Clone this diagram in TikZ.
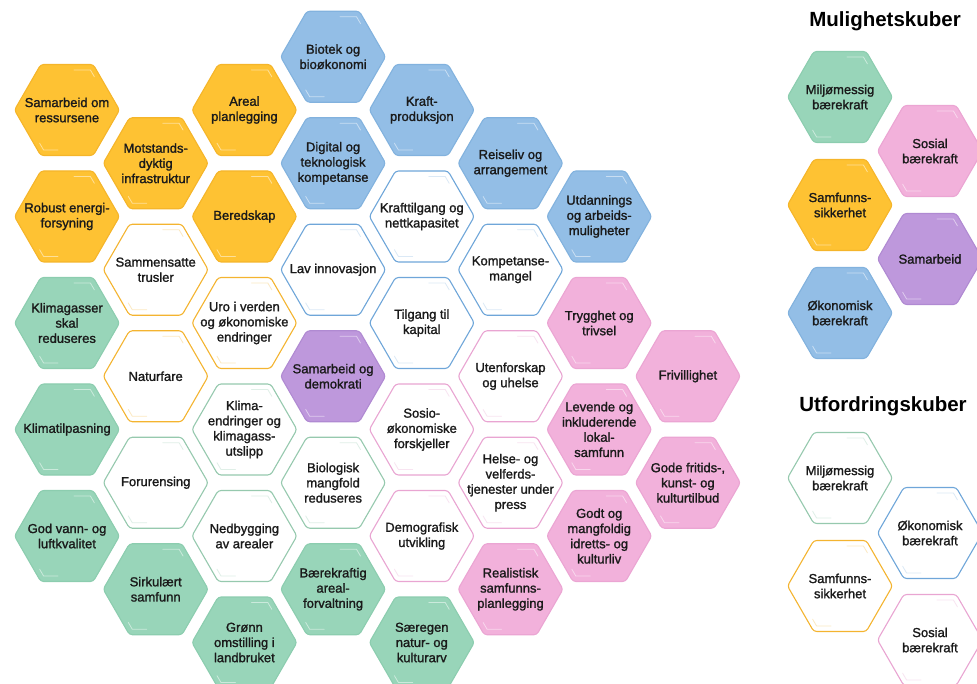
\documentclass[tikz,border=0pt]{standalone}
\usepackage{fontspec}
\setmainfont{Liberation Sans}
\newfontfamily\hexfont[FakeBold=1.4]{Liberation Sans}
\definecolor{ylw}{HTML}{FEC233}
\definecolor{ylwB}{HTML}{F5B52A}
\definecolor{org}{HTML}{F4B430}
\definecolor{blu}{HTML}{93BEE6}
\definecolor{bluB}{HTML}{82B2DE}
\definecolor{bluO}{HTML}{6FA6D9}
\definecolor{grn}{HTML}{98D5B9}
\definecolor{grnB}{HTML}{8CCDAF}
\definecolor{grnO}{HTML}{96C9AE}
\definecolor{pnk}{HTML}{F2B1DB}
\definecolor{pnkB}{HTML}{EBA5D3}
\definecolor{pnkO}{HTML}{E9A5D2}
\definecolor{prp}{HTML}{BE98DC}
\definecolor{prpB}{HTML}{B08AD2}
\definecolor{txt}{HTML}{1A1A1A}
\newcommand\hexcell[5]{%
  \begin{scope}[shift={(#2,#3)}]
    \draw[hexbase,#4] (-52.5,0) -- (-26.25,-45.5) -- (26.25,-45.5) -- (52.5,0) -- (26.25,45.5) -- (-26.25,45.5) -- cycle;
    \draw[glint,#4g] (7,-40) -- (23.4,-40) -- (27.4,-33.2);
    \draw[glint,#4g] (-27.4,33.2) -- (-23.4,40) -- (-9,40);
    \node[hextext] (#1) at (0,0) {#5};
  \end{scope}}
\begin{document}
\begin{tikzpicture}[x=1pt,y=-1pt,
  hexbase/.style={line width=1.1pt, rounded corners=3pt, line join=round},
  glint/.style={line width=0.8pt, line cap=round},
  hextext/.style={inner sep=0pt, align=center, text=txt, font=\hexfont\fontsize{13}{15.2}\selectfont},
  title/.style={anchor=base, text=black, font=\bfseries\fontsize{20.5}{24}\selectfont},
  fy/.style={fill=ylw,draw=ylwB}, fyg/.style={white,opacity=0.5},
  oy/.style={fill=white,draw=org}, oyg/.style={org!30},
  fb/.style={fill=blu,draw=bluB}, fbg/.style={white,opacity=0.5},
  ob/.style={fill=white,draw=bluO}, obg/.style={bluO!25},
  fg/.style={fill=grn,draw=grnB}, fgg/.style={white,opacity=0.5},
  og/.style={fill=white,draw=grnO}, ogg/.style={grnO!30},
  fp/.style={fill=pnk,draw=pnkB}, fpg/.style={white,opacity=0.5},
  op/.style={fill=white,draw=pnkO}, opg/.style={pnkO!30},
  fv/.style={fill=prp,draw=prpB}, fvg/.style={white,opacity=0.5}]
\useasboundingbox (0,0) rectangle (977,684);
\clip (0,0) rectangle (977,684);
% column 1
\hexcell{a1}{67}{110}{fy}{Samarbeid om\\ressursene}
\hexcell{a2}{67}{216.5}{fy}{Robust energi-\\forsyning}
\hexcell{a3}{67}{323}{fg}{Klimagasser\\skal\\reduseres}
\hexcell{a4}{67}{429.5}{fg}{Klimatilpasning}
\hexcell{a5}{67}{536}{fg}{God vann- og\\luftkvalitet}
% column 2
\hexcell{b1}{155.7}{163.25}{fy}{Motstands-\\dyktig\\infrastruktur}
\hexcell{b2}{155.7}{269.75}{oy}{Sammensatte\\trusler}
\hexcell{b3}{155.7}{376.25}{oy}{Naturfare}
\hexcell{b4}{155.7}{482.75}{og}{Forurensing}
\hexcell{b5}{155.7}{589.25}{fg}{Sirkulært\\samfunn}
% column 3
\hexcell{c1}{244.4}{110}{fy}{Areal\\planlegging}
\hexcell{c2}{244.4}{216.5}{fy}{Beredskap}
\hexcell{c3}{244.4}{323}{oy}{Uro i verden\\og økonomiske\\endringer}
\hexcell{c4}{244.4}{429.5}{og}{Klima-\\endringer og\\klimagass-\\utslipp}
\hexcell{c5}{244.4}{536}{og}{Nedbygging\\av arealer}
\hexcell{c6}{244.4}{642.5}{fg}{Grønn\\omstilling i\\landbruket}
% column 4
\hexcell{d1}{333.1}{56.75}{fb}{Biotek og\\bioøkonomi}
\hexcell{d2}{333.1}{163.25}{fb}{Digital og\\teknologisk\\kompetanse}
\hexcell{d3}{333.1}{269.75}{ob}{Lav innovasjon}
\hexcell{d4}{333.1}{376.25}{fv}{Samarbeid og\\demokrati}
\hexcell{d5}{333.1}{482.75}{og}{Biologisk\\mangfold\\reduseres}
\hexcell{d6}{333.1}{589.25}{fg}{Bærekraftig\\areal-\\forvaltning}
% column 5
\hexcell{e1}{421.8}{110}{fb}{Kraft-\\produksjon}
\hexcell{e2}{421.8}{216.5}{ob}{Krafttilgang og\\nettkapasitet}
\hexcell{e3}{421.8}{323}{ob}{Tilgang til\\kapital}
\hexcell{e4}{421.8}{429.5}{op}{Sosio-\\økonomiske\\forskjeller}
\hexcell{e5}{421.8}{536}{op}{Demografisk\\utvikling}
\hexcell{e6}{421.8}{642.5}{fg}{Særegen\\natur- og\\kulturarv}
% column 6
\hexcell{f1}{510.5}{163.25}{fb}{Reiseliv og\\arrangement}
\hexcell{f2}{510.5}{269.75}{ob}{Kompetanse-\\mangel}
\hexcell{f3}{510.5}{376.25}{op}{Utenforskap\\og uhelse}
\hexcell{f4}{510.5}{482.75}{op}{Helse- og\\velferds-\\tjenester under\\press}
\hexcell{f5}{510.5}{589.25}{fp}{Realistisk\\samfunns-\\planlegging}
% column 7
\hexcell{g1}{599.2}{216.5}{fb}{Utdannings\\og arbeids-\\muligheter}
\hexcell{g2}{599.2}{323}{fp}{Trygghet og\\trivsel}
\hexcell{g3}{599.2}{429.5}{fp}{Levende og\\inkluderende\\lokal-\\samfunn}
\hexcell{g4}{599.2}{536}{fp}{Godt og\\mangfoldig\\idretts- og\\kulturliv}
% column 8
\hexcell{h1}{687.9}{376.25}{fp}{Frivillighet}
\hexcell{h2}{687.9}{482.75}{fp}{Gode fritids-,\\kunst- og\\kulturtilbud}
% legend: Mulighetskuber
\node[title] (t1) at (885,27) {Mulighetskuber};
\hexcell{m1}{840}{97}{fg}{Miljømessig\\bærekraft}
\hexcell{m2}{930}{151}{fp}{Sosial\\bærekraft}
\hexcell{m3}{840}{205}{fy}{Samfunns-\\sikkerhet}
\hexcell{m4}{930}{259}{fv}{Samarbeid}
\hexcell{m5}{840}{313}{fb}{Økonomisk\\bærekraft}
% legend: Utfordringskuber
\node[title] (t2) at (883,411) {Utfordringskuber};
\hexcell{u1}{840}{478}{og}{Miljømessig\\bærekraft}
\hexcell{u2}{930}{533}{ob}{Økonomisk\\bærekraft}
\hexcell{u3}{840}{586}{oy}{Samfunns-\\sikkerhet}
\hexcell{u4}{930}{640}{op}{Sosial\\bærekraft}
\end{tikzpicture}
\end{document}
